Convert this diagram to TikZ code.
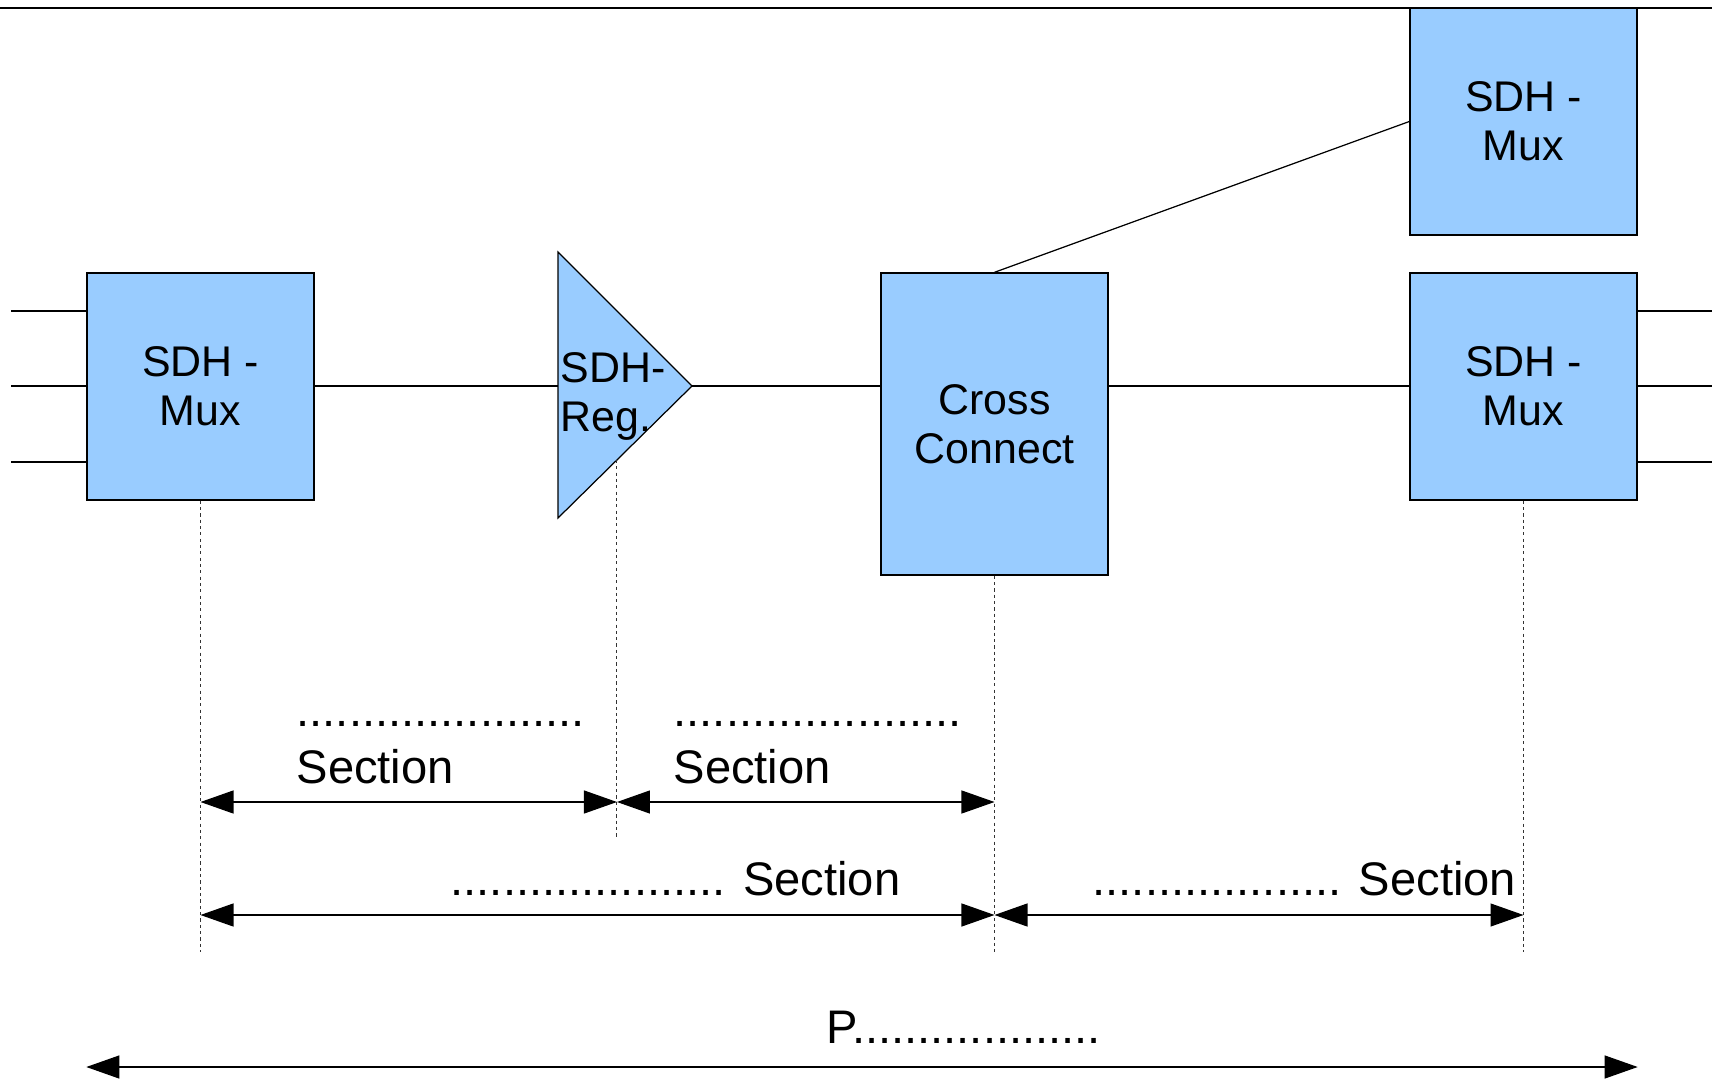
\documentclass[tikz,border=0pt]{standalone}
\usepackage{fontspec}
\setmainfont{Liberation Sans}
\usetikzlibrary{arrows.meta,calc}
\definecolor{sdhblue}{HTML}{99CCFF}

\begin{document}
\begin{tikzpicture}[
    x=0.01cm, y=-0.01cm,
    line width=0.35pt,
    % Network elements (light blue boxes)
    box/.style={draw=black, fill=sdhblue, minimum width=2.27cm, minimum height=2.27cm,
        inner sep=0pt, align=center, font=\fontsize{12.2}{13.9}\selectfont},
    % Section spans (double headed)
    span/.style={{Triangle[length=0.33cm,width=0.23cm]}-{Triangle[length=0.33cm,width=0.23cm]}},
    % Thin vertical guides below the elements
    guide/.style={dash pattern=on 0.9pt off 0.9pt, line width=0.3pt, black!80},
    % Section texts (anchored on the baseline of the last line)
    sectext/.style={inner sep=0pt, align=left, anchor=base west, font=\fontsize{13.4}{16.2}\selectfont}
]
    \useasboundingbox (0,0) rectangle (1712,1079);

    % --- Top border ---
    \draw (0,8) -- (1712,8);

    % --- Elements ---
    \node[box] (muxL) at (200.5,386.5) {SDH -\\Mux};
    \node[box, minimum height=3.02cm] (cc) at (994.5,424) {Cross\\Connect};
    \node[box] (muxT) at (1523.5,121.5) {SDH -\\Mux};
    \node[box] (muxR) at (1523.5,386.5) {SDH -\\Mux};

    % Regenerator (triangle)
    \coordinate (regN) at (558,252);
    \coordinate (regS) at (558,518);
    \coordinate (regT) at (692,386);
    \coordinate (regW) at (558,386);
    \filldraw[fill=sdhblue] (regN) -- (regT) -- (regS) -- cycle;
    \node[inner sep=0pt, align=left, anchor=base west, font=\fontsize{12.2}{13.9}\selectfont]
        (reg) at (560,431) {SDH-\\Reg.};
    \coordinate (regB) at ($(regS)!0.44!(regT)$);

    % --- Links ---
    \draw (muxL.east |- regW) -- (regW);
    \draw (regT) -- (cc.west |- regT);
    \draw (cc.east |- regT) -- (muxR.west |- regT);
    \draw (cc.north) -- (muxT.west);
    \foreach \y in {311,386,462} {
        \draw (muxL.west |- 0,\y) -- ++(-75,0);
        \draw (muxR.east |- 0,\y) -- ++(75,0);
    }

    % --- Guides ---
    \draw[guide] (muxL.south) -- (muxL.south |- 0,952);
    \draw[guide] (regB) -- (regB |- 0,838);
    \draw[guide] (cc.south) -- (cc.south |- 0,952);
    \draw[guide] (muxR.south) -- (muxR.south |- 0,952);

    % --- Spans ---
    \draw[span] (muxL.south |- 0,802) -- (regB |- 0,802);
    \draw[span] (regB |- 0,802) -- (cc.south |- 0,802);
    \draw[span] (muxL.south |- 0,915) -- (cc.south |- 0,915);
    \draw[span] (cc.south |- 0,915) -- (muxR.south |- 0,915);
    \draw[span] (muxL.west |- 0,1067) -- (muxR.east |- 0,1067);

    \node[sectext] (sec1) at (296,783) {......................\\Section};
    \node[sectext] (sec2) at (673,783) {......................\\Section};
    \node[sectext] (sec3) at (450,895) {..................... Section};
    \node[sectext] (sec4) at (1092,895) {................... Section};
    \node[sectext] (path) at (826,1043) {P...................};
\end{tikzpicture}
\end{document}
